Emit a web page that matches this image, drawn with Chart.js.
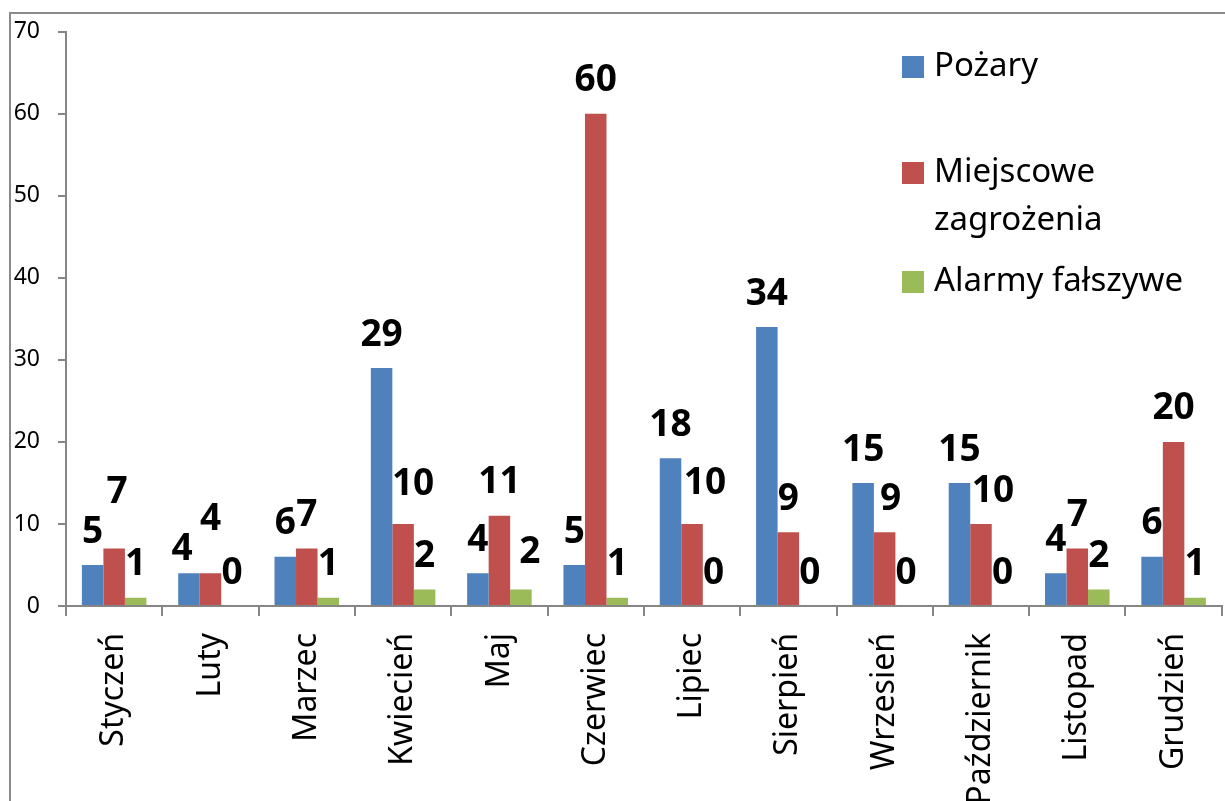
<!DOCTYPE html>
<html>
<head>
<meta charset="utf-8">
<script src="https://cdn.jsdelivr.net/npm/chart.js@4.4.1/dist/chart.umd.min.js"></script>
<style>
  html, body { margin: 0; padding: 0; background: #fff; overflow: hidden; }
  #wrap { width: 1225px; height: 801px; overflow: hidden; }
</style>
</head>
<body>
<div id="wrap"><canvas id="chart" width="1229" height="801"></canvas></div>
<script>
const months = ["Styczeń", "Luty", "Marzec", "Kwiecień", "Maj", "Czerwiec", "Lipiec", "Sierpień", "Wrzesień", "Październik", "Listopad", "Grudzień"];
const seriesNames = ["Pożary", "Miejscowe zagrożenia", "Alarmy fałszywe"];
const fires = [5, 4, 6, 29, 4, 5, 18, 34, 15, 15, 4, 6];
const localThreats = [7, 4, 7, 10, 11, 60, 10, 9, 9, 10, 7, 20];
const falseAlarms = [1, 0, 1, 2, 2, 1, 0, 0, 0, 0, 2, 1];
const yTicks = [0, 10, 20, 30, 40, 50, 60, 70];

const colors = ["#4F81BD", "#C0504D", "#9BBB59"];
const axisGray = "#868686";

// hand-placed labels in the original, nudges in px (dataset-index)
const labelNudge = {
  "1-0": [3, -23],
  "0-1": [-7, 9],
  "1-1": [0, -21],
  "1-3": [10, -7],
  "2-4": [9, -4],
  "1-6": [13, -8],
  "1-8": [6, 0],
  "1-9": [12, 0]
};

const frame = {
  id: "frame",
  beforeDraw(chart) {
    const ctx = chart.ctx;
    ctx.save();
    ctx.fillStyle = "#fff";
    ctx.fillRect(0, 0, chart.width, chart.height);
    ctx.strokeStyle = "#8a8a8a";
    ctx.lineWidth = 2;
    ctx.beginPath();
    ctx.moveTo(10, chart.height);
    ctx.lineTo(10, 13);
    ctx.lineTo(chart.width, 13);
    ctx.stroke();
    ctx.restore();
  }
};

const valueLabels = {
  id: "valueLabels",
  afterDatasetsDraw(chart) {
    const ctx = chart.ctx;
    ctx.save();
    ctx.font = "bold 37px 'Noto Sans'";
    ctx.fillStyle = "#000";
    ctx.textAlign = "center";
    ctx.textBaseline = "middle";
    chart.data.datasets.forEach((ds, di) => {
      chart.getDatasetMeta(di).data.forEach((bar, i) => {
        const n = labelNudge[di + "-" + i] || [0, 0];
        ctx.fillText(String(ds.data[i]), bar.x + n[0], bar.y - 33 + n[1]);
      });
    });
    ctx.restore();
  }
};

const sideLegend = {
  id: "sideLegend",
  afterDraw(chart) {
    const ctx = chart.ctx;
    const rowsY = [67, 173, 282];
    const boxX = 902, textX = 934, maxW = 285, lineH = 48;
    ctx.save();
    ctx.font = "33px 'Noto Sans'";
    ctx.textBaseline = "middle";
    ctx.textAlign = "left";
    chart.data.datasets.forEach((ds, di) => {
      const y = rowsY[di];
      ctx.fillStyle = ds.backgroundColor;
      ctx.fillRect(boxX, y - 11, 22, 22);
      // greedy word wrap
      const words = ds.label.split(" ");
      const lines = [];
      let cur = "";
      words.forEach(w => {
        const t = cur ? cur + " " + w : w;
        if (ctx.measureText(t).width > maxW && cur) { lines.push(cur); cur = w; }
        else cur = t;
      });
      lines.push(cur);
      ctx.fillStyle = "#000";
      lines.forEach((l, li) => ctx.fillText(l, textX, y + li * lineH));
    });
    ctx.restore();
  }
};

new Chart(document.getElementById("chart"), {
  type: "bar",
  data: {
    labels: months,
    datasets: [
      { label: seriesNames[0], data: fires, backgroundColor: colors[0] },
      { label: seriesNames[1], data: localThreats, backgroundColor: colors[1] },
      { label: seriesNames[2], data: falseAlarms, backgroundColor: colors[2] }
    ]
  },
  options: {
    responsive: false,
    animation: false,
    layout: { padding: { top: 29, left: 0, right: 0, bottom: 0 } },
    datasets: { bar: { categoryPercentage: 0.67, barPercentage: 1.0 } },
    plugins: {
      legend: { display: false },
      tooltip: { enabled: false }
    },
    scales: {
      x: {
        grid: { offset: true, drawOnChartArea: false, tickLength: 10, color: axisGray, lineWidth: 2 },
        border: { color: axisGray, width: 2 },
        ticks: {
          autoSkip: false, minRotation: 90, maxRotation: 90, padding: 17,
          color: "#000", font: { family: "'Noto Sans'", size: 32 }
        },
        afterFit(scale) { scale.height = 195; }
      },
      y: {
        min: 0, max: 70,
        afterBuildTicks(scale) { scale.ticks = yTicks.map(v => ({ value: v })); },
        grid: { drawOnChartArea: false, tickLength: 8, color: axisGray, lineWidth: 2 },
        border: { color: axisGray, width: 2 },
        ticks: { padding: 18, color: "#000", font: { family: "'Noto Sans'", size: 23 } },
        afterFit(scale) { scale.width = 66; }
      }
    }
  },
  plugins: [frame, valueLabels, sideLegend]
});
</script>
</body>
</html>
